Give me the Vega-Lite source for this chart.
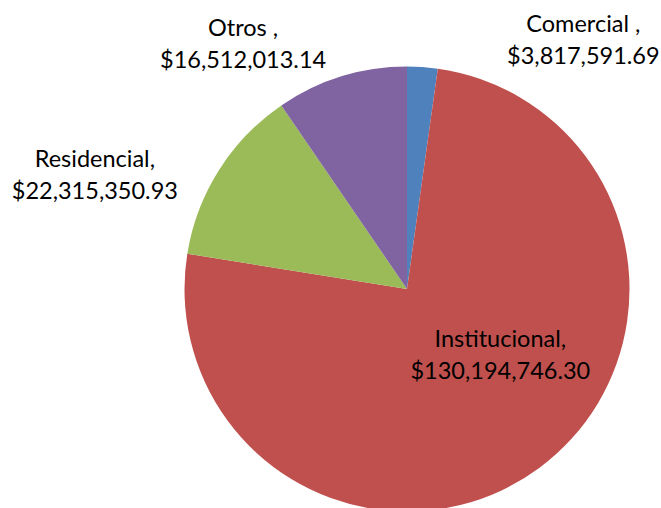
{
  "$schema": "https://vega.github.io/schema/vega-lite/v6.json",
  "width": 444,
  "height": 438,
  "autosize": {"type": "none"},
  "padding": {"left": 185, "top": 70, "right": 32, "bottom": 0},
  "background": "white",
  "view": {"stroke": null},
  "data": {
    "values": [
      {"category": "Comercial", "value": 3817591.69, "orden": 1},
      {"category": "Institucional", "value": 130194746.30, "orden": 2},
      {"category": "Residencial", "value": 22315350.93, "orden": 3},
      {"category": "Otros", "value": 16512013.14, "orden": 4}
    ]
  },
  "transform": [
    {"calculate": "datum.category + ((datum.category == 'Comercial' || datum.category == 'Otros') ? ' ,' : ',') + '\\n' + format(datum.value, '$,.2f')", "as": "label"}
  ],
  "encoding": {
    "theta": {"field": "value", "type": "quantitative", "stack": true},
    "order": {"field": "orden", "type": "quantitative"}
  },
  "layer": [
    {
      "mark": {"type": "arc", "outerRadius": 222.5},
      "encoding": {
        "color": {
          "field": "category",
          "type": "nominal",
          "scale": {
            "domain": ["Comercial", "Institucional", "Residencial", "Otros"],
            "range": ["#4F81BD", "#C0504D", "#9BBB59", "#8064A2"]
          },
          "legend": null
        }
      }
    },
    {
      "mark": {"type": "text", "radius": 250, "dx": 159, "dy": -15, "font": "Lato", "fontSize": 23.5, "color": "#000000", "align": "center", "baseline": "middle", "lineBreak": "\n", "lineHeight": 32},
      "encoding": {"text": {"condition": {"test": "datum.category === 'Comercial'", "field": "label"}, "value": ""}}
    },
    {
      "mark": {"type": "text", "radius": 250, "dx": -90, "dy": -21, "font": "Lato", "fontSize": 23.5, "color": "#000000", "align": "center", "baseline": "middle", "lineBreak": "\n", "lineHeight": 32},
      "encoding": {"text": {"condition": {"test": "datum.category === 'Otros'", "field": "label"}, "value": ""}}
    },
    {
      "mark": {"type": "text", "radius": 250, "dx": -101, "dy": 5, "font": "Lato", "fontSize": 23.5, "color": "#000000", "align": "center", "baseline": "middle", "lineBreak": "\n", "lineHeight": 32},
      "encoding": {"text": {"condition": {"test": "datum.category === 'Residencial'", "field": "label"}, "value": ""}}
    },
    {
      "mark": {"type": "text", "radius": 120, "dx": 22, "dy": -46, "font": "Lato", "fontSize": 23.5, "color": "#000000", "align": "center", "baseline": "middle", "lineBreak": "\n", "lineHeight": 32},
      "encoding": {"text": {"condition": {"test": "datum.category === 'Institucional'", "field": "label"}, "value": ""}}
    }
  ]
}
